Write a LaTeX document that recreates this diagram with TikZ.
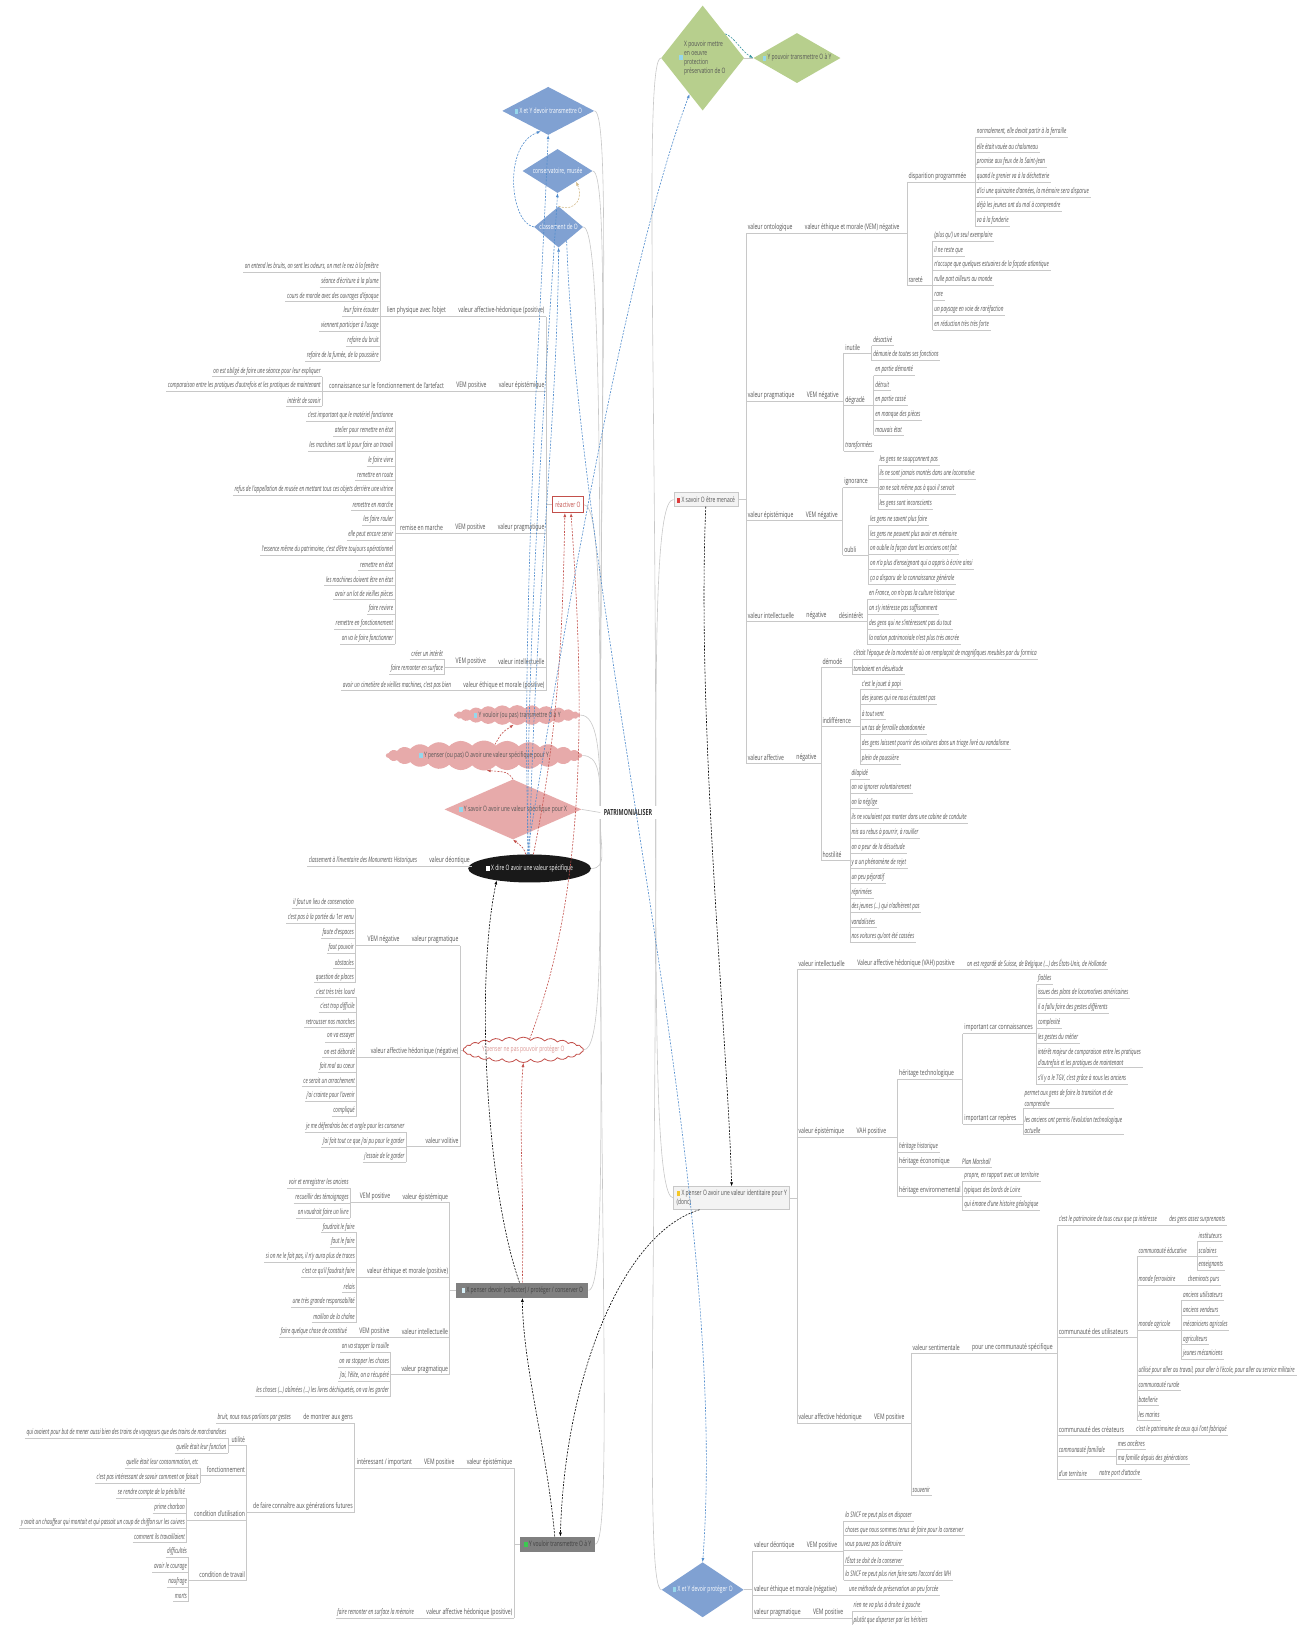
\documentclass[tikz,border=0pt]{standalone}
\usepackage{fontspec}
\setmainfont{Open Sans}[UprightFeatures={FakeStretch=0.67},ItalicFeatures={FakeStretch=0.61},BoldFeatures={FakeStretch=0.64}]
\usepackage{tikz}
\usetikzlibrary{positioning,arrows.meta,calc,backgrounds,shapes.geometric,shapes.symbols}
\definecolor{txt}{RGB}{85,85,85}
\definecolor{lin}{RGB}{200,200,200}
\definecolor{bluedia}{RGB}{128,161,210}
\definecolor{greendia}{RGB}{183,207,141}
\definecolor{pinknode}{RGB}{231,170,170}
\definecolor{relblue}{RGB}{80,140,205}
\definecolor{relred}{RGB}{195,80,75}
\definecolor{reltan}{RGB}{210,185,135}
\definecolor{relteal}{RGB}{60,150,160}
\definecolor{boxgrey}{RGB}{128,128,128}
\definecolor{boxlight}{RGB}{243,243,243}
\definecolor{icoblue}{RGB}{150,215,235}
\definecolor{icoyellow}{RGB}{245,200,40}
\definecolor{icogreen}{RGB}{60,200,80}
\definecolor{icored}{RGB}{220,60,60}
\newcommand{\lff}{\fontsize{7.6}{11}\selectfont\itshape}
\newcommand{\bff}{\fontsize{7.6}{11}\selectfont}
\newcommand{\mnf}{\fontsize{7.4}{9}\selectfont}
\newcommand{\ico}[1]{\textcolor{#1}{\rule[-0.6pt]{3.6pt}{5pt}}\hspace{1.4pt}}
% columns of leaves, brackets and chains
\newcommand{\rcolumn}[4]{\foreach \itm [count=\i] in {#4} {\node[rleaf] (#1\i) at (#2,{#3+14.35*(\i-1)}) {\itm};}}
\newcommand{\lcolumn}[4]{\foreach \itm [count=\i] in {#4} {\node[lleaf] (#1\i) at (#2,{#3+14.35*(\i-1)}) {\itm};}}
\newcommand{\rbrk}[3]{\draw[brk] (#2.south west) -- (#3.south west) (#1.south east) -- (#1.south east -| #2.south west);}
\newcommand{\lbrk}[3]{\draw[brk] (#2.south east) -- (#3.south east) (#1.south west) -- (#1.south west -| #2.south east);}
\newcommand{\rchain}[2]{\draw[brk] (#1.south east) -- (#2.south west);}
\newcommand{\lchain}[2]{\draw[brk] (#1.south west) -- (#2.south east);}
\newcommand{\rootlink}[3]{\draw[link] (#1) .. controls ($(#1)!0.6!(#1 |- #2)$) and ($(#2)+(#3,0)$) .. (#2);}
\tikzset{
  uline/.style ={append after command={(\tikzlastnode.south west) edge[brk] (\tikzlastnode.south east)}},
  rleaf/.style ={anchor=west, font=\lff, text=txt, inner xsep=1.5pt, inner ysep=0pt, minimum height=11pt, uline},
  lleaf/.style ={rleaf, anchor=east},
  rlab/.style  ={rleaf, font=\bff},
  llab/.style  ={rlab, anchor=east},
  brk/.style   ={draw=lin, line width=0.6pt},
  link/.style  ={draw=lin, line width=0.6pt},
  mnode/.style ={font=\mnf, text=txt, inner sep=0pt, align=center},
  bdia/.style  ={mnode, diamond, fill=bluedia, text=white},
  gdia/.style  ={mnode, diamond, fill=greendia},
  pdia/.style  ={mnode, diamond, fill=pinknode},
  pcloud/.style={mnode, cloud, cloud puffs=26, cloud puff arc=95, fill=pinknode},
  rcloud/.style={pcloud, fill=white, draw=relred, line width=0.8pt, text=relred!60},
  gbox/.style  ={mnode, rectangle, fill=boxgrey, minimum height=15pt, text=black!75},
  lbox/.style  ={mnode, rectangle, fill=boxlight, draw=lin, minimum height=14pt, inner xsep=2pt},
  rbox/.style  ={mnode, rectangle, fill=white, draw=relred, line width=0.7pt, text=relred, minimum height=16pt, inner xsep=3pt},
  blk/.style   ={mnode, ellipse, fill=black!90, text=white},
  rootnode/.style={font=\bfseries\fontsize{8.4}{10}\selectfont, text=black!80},
  rel/.style   ={dash pattern=on 2pt off 1.3pt, line width=0.6pt, -{Latex[length=4pt,width=3pt]}},
  relb/.style  ={rel, draw=relblue},
  relr/.style  ={rel, draw=relred},
  relk/.style  ={rel, draw=black},
  relt/.style  ={rel, draw=reltan},
  relg/.style  ={rel, draw=relteal},
}
\begin{document}
\begin{tikzpicture}[x=1.0363pt,y=-1.0363pt,node distance=9pt]
\useasboundingbox (0,0) rectangle (1269,1568);

% main topics
\node[gdia, aspect=0.8, minimum width=83pt, minimum height=105pt] (xp) at (678,56) {\ico{icoblue}\parbox[c]{42pt}{\raggedright X pouvoir mettre\\en oeuvre\\protection\\préservation de O}};
\node[gdia, aspect=1.74, minimum width=87pt, minimum height=50pt] (yp) at (769,56) {\ico{icoblue}Y pouvoir transmettre O à Y};
\node[bdia, aspect=1.9, minimum width=92pt, minimum height=48pt] (xyt) at (529,107) {\ico{icoblue}X et Y devoir transmettre O};
\node[bdia, aspect=1.6, minimum width=70pt, minimum height=44pt] (cons) at (538,165) {conservatoire, musée};
\node[bdia, aspect=1.2, minimum width=49pt, minimum height=41pt] (clas) at (539,219) {classement de O};
\node[rbox] (reac) at (548,487) {réactiver O};
\node[pcloud, aspect=9, minimum width=126pt, minimum height=15pt] (yvo) at (499,690) {\ico{icoblue}Y vouloir (ou pas) transmettre O à Y};
\node[pcloud, aspect=9, minimum width=196pt, minimum height=22pt] (ype) at (467,729) {\ico{icoblue}Y penser (ou pas) O avoir une valeur spécifique pour Y};
\node[pdia, aspect=2.3, minimum width=137pt, minimum height=60pt] (ysa) at (495,781) {\ico{icoblue}Y savoir O avoir une valeur spécifique pour X};
\node[blk, minimum width=105pt, minimum height=28pt] (xdire) at (511,838) {\ico{white}X dire O avoir une valeur spécifique};
\node[rcloud, aspect=6, minimum width=120pt, minimum height=24pt] (ypn) at (505,1013) {Y penser ne pas pouvoir protéger O};
\node[gbox, minimum width=132pt] (xpd) at (504,1245) {\ico{icoblue!40}X penser devoir (collecter) / protéger / conserver O};
\node[gbox, minimum width=75pt] (yvt) at (538,1490) {\ico{icogreen}Y vouloir transmettre O à Y};
\node[lbox, minimum width=64pt] (menace) at (681,482) {\ico{icored}X savoir O être menacé};
\node[lbox, align=left, minimum width=116pt, minimum height=23pt] (xid) at (706,1156) {\ico{icoyellow}X penser O avoir une valeur identitaire pour Y\\(donc)};
\node[bdia, aspect=1.5, minimum width=82pt, minimum height=55pt] (xyp) at (678,1534) {\ico{icoblue}X et Y devoir protéger O};
\node[rootnode] (root) at (606,784) {PATRIMONIALISER};

% X savoir O être menacé
\node[rlab] (vo) at (720,220) {valeur ontologique};
\node[rlab,right=of vo] (vom) {valeur éthique et morale (VEM) négative};
\node[rlab] (dp) at (875,170) {disparition programmée};
\rcolumn{dpk}{941}{127}{{normalement, elle devait partir à la ferraille},{elle était vouée au chalumeau},{promise aux feux de la Saint-Jean},{quand le grenier va à la déchetterie},{d'ici une quinzaine d'années, la mémoire sera disparue},{déjà les jeunes ont du mal à comprendre},{va à la fonderie}}
\node[rlab] (ra) at (875,270) {rareté};
\rcolumn{rak}{900}{227}{{(plus qu') un seul exemplaire},{il ne reste que},{n'occupe que quelques estuaires de la façade atlantique},{nulle part ailleurs au monde},{rare},{un paysage en voie de raréfaction},{en réduction très très forte}}
\rchain{vo}{vom} \rbrk{dp}{dpk1}{dpk7} \rbrk{ra}{rak1}{rak7} \rbrk{vom}{dp}{ra}
\node[rlab] (vp) at (720,382) {valeur pragmatique};
\node[rlab,right=of vp] (vpm) {VEM négative};
\node[rlab] (inu) at (814,335) {inutile};
\rcolumn{inuk}{841}{328}{{désactivé},{démunie de toutes ses fonctions}}
\node[rlab] (deg) at (814,386) {dégradé};
\rcolumn{degk}{843}{357}{{en partie démonté},{détruit},{en partie cassé},{en manque des pièces},{mauvais état}}
\node[rleaf] (tra) at (814,430) {transformées};
\rchain{vp}{vpm} \rbrk{inu}{inuk1}{inuk2} \rbrk{deg}{degk1}{degk5} \rbrk{vpm}{inu}{tra}
\node[rlab] (ve) at (720,497) {valeur épistémique};
\node[rlab,right=of ve] (vem) {VEM négative};
\node[rlab] (ign) at (813,465) {ignorance};
\rcolumn{ignk}{847}{443}{{les gens ne soupçonnent pas},{ils ne sont jamais montés dans une locomotive},{on ne sait même pas à quoi il servait},{les gens sont inconscients}}
\node[rlab] (oub) at (813,530) {oubli};
\rcolumn{oubk}{838}{501}{{les gens ne savent plus faire},{les gens ne peuvent plus avoir en mémoire},{on oublie la façon dont les anciens ont fait},{on n'a plus d'enseignant qui a appris à écrire ainsi},{ça a disparu de la connaissance générale}}
\rchain{ve}{vem} \rbrk{ign}{ignk1}{ignk4} \rbrk{oub}{oubk1}{oubk5} \rbrk{vem}{ign}{oub}
\node[rlab] (vi) at (720,594) {valeur intellectuelle};
\node[rlab,right=of vi] (vin) {négative};
\node[rlab,right=of vin] (vid) {désintérêt};
\rcolumn{vidk}{837}{573}{{en France, on n'a pas la culture historique},{on s'y intéresse pas suffisamment},{des gens qui ne s'intéressent pas du tout},{la notion patrimoniale n'est plus très ancrée}}
\rchain{vi}{vin} \rchain{vin}{vid} \rbrk{vid}{vidk1}{vidk4}
\node[rlab] (va) at (720,731) {valeur affective};
\node[rlab,right=of va] (van) {négative};
\node[rlab] (dem) at (792,638) {démodé};
\rcolumn{demk}{822}{631}{{c'était l'époque de la modernité où on remplaçait de magnifiques meubles par du formica},{tombaient en désuétude}}
\node[rlab] (ind) at (792,695) {indifférence};
\rcolumn{indk}{830}{660}{{c'est le jouet à papi},{des jeunes qui ne nous écoutent pas},{à tout vent},{un tas de ferraille abandonnée},{des gens laissent pourrir des voitures dans un triage livré au vandalisme},{plein de poussière}}
\node[rlab] (hos) at (792,825) {hostilité};
\rcolumn{hosk}{820}{746}{{dilapidé},{on va ignorer volontairement},{on la néglige},{ils ne voulaient pas monter dans une cabine de conduite},{mis au rebus à pourrir, à rouiller},{on a peur de la désuétude},{y a un phénomène de rejet},{un peu péjoratif},{réprimées},{des jeunes (\ldots) qui n'adhèrent pas},{vandalisées},{nos voitures qu'ont été cassées}}
\rchain{va}{van} \rbrk{dem}{demk1}{demk2} \rbrk{ind}{indk1}{indk6} \rbrk{hos}{hosk1}{hosk12} \rbrk{van}{dem}{hos}
\draw[brk] (vo.south west) -- (va.south west) (menace.east) -- (menace.east -| vo.south west);

% réactiver O
\node[llab] (ah) at (527,300) {valeur affective-hédonique (positive)};
\node[llab,left=of ah] (ahl) {lien physique avec l'objet};
\lcolumn{ahk}{367}{257}{{on entend les bruits, on sent les odeurs, on met le nez à la fenêtre},{séance d'écriture à la plume},{cours de morale avec des ouvrages d'époque},{leur faire écouter},{viennent participer à l'usage},{refaire du bruit},{refaire de la fumée, de la poussière}}
\lchain{ah}{ahl} \lbrk{ahl}{ahk1}{ahk7}
\node[llab] (ep) at (527,372) {valeur épistémique};
\node[llab,left=of ep] (epv) {VEM positive};
\node[llab,left=of epv] (epc) {connaissance sur le fonctionnement de l'artefact};
\lcolumn{epk}{311}{358}{{on est obligé de faire une séance pour leur expliquer},{comparaison entre les pratiques d'autrefois et les pratiques de maintenant},{intérêt de savoir}}
\lchain{ep}{epv} \lchain{epv}{epc} \lbrk{epc}{epk1}{epk3}
\node[llab] (pr) at (527,509) {valeur pragmatique};
\node[llab,left=of pr] (prv) {VEM positive};
\node[llab,left=of prv] (prr) {remise en marche};
\lcolumn{prk}{381}{401}{{c'est important que le matériel fonctionne},{atelier pour remettre en état},{les machines sont là pour faire un travail},{le faire vivre},{remettre en route},{refus de l'appellation de musée en mettant tous ces objets derrière une vitrine},{remettre en marche},{les faire rouler},{elle peut encore servir},{l'essence même du patrimoine, c'est d'être toujours opérationnel},{remettre en état},{les machines doivent être en état},{avoir un lot de vieilles pièces},{faire revivre},{remettre en fonctionnement},{on va le faire fonctionner}}
\lchain{pr}{prv} \lchain{prv}{prr} \lbrk{prr}{prk1}{prk16}
\node[llab] (ui) at (527,638) {valeur intellectuelle};
\node[llab,left=of ui] (uiv) {VEM positive};
\lcolumn{uik}{429}{631}{{créer un intérêt},{faire remonter en surface}}
\lchain{ui}{uiv} \lbrk{uiv}{uik1}{uik2}
\node[llab] (ue) at (527,661) {valeur éthique et morale (positive)};
\node[lleaf,left=of ue] (uel) {avoir un cimetière de vieilles machines, c'est pas bien};
\lchain{ue}{uel}
\draw[brk] (ah.south east) -- (ue.south east) (reac.west) -- (reac.west -| ah.south east);

% X dire O
\node[llab] (xdd) at (455,830) {valeur déontique};
\node[lleaf,left=of xdd] (xdl) {classement à l'inventaire des Monuments Historiques};
\lchain{xdd}{xdl}
\draw[brk] (xdd.south east) -- (xdd.south east -| xdire.west);

% Y penser ne pas pouvoir protéger O
\node[llab] (lp) at (444,907) {valeur pragmatique};
\node[llab,left=of lp] (lpv) {VEM négative};
\lcolumn{lpk}{343}{871}{{il faut un lieu de conservation},{c'est pas à la portée du 1er venu},{faute d'espaces},{faut pouvoir},{obstacles},{question de places}}
\lchain{lp}{lpv} \lbrk{lpv}{lpk1}{lpk6}
\node[llab] (lh) at (444,1015) {valeur affective hédonique (négative)};
\lcolumn{lhk}{344}{957}{{c'est très très lourd},{c'est trop difficile},{retrousser nos manches},{on va essayer},{on est débordé},{fait mal au coeur},{ce serait un arrachement},{j'ai crainte pour l'avenir},{compliqué}}
\lbrk{lh}{lhk1}{lhk9}
\node[llab] (lv) at (444,1101) {valeur volitive};
\lcolumn{lvk}{392}{1087}{{je me défendrais bec et ongle pour les conserver},{j'ai fait tout ce que j'ai pu pour le garder},{j'essaie de le garder}}
\lbrk{lv}{lvk1}{lvk3}
\draw[brk] (lp.south east) -- (lv.south east) (ypn.west) -- (ypn.west -| lp.south east);

% X penser devoir protéger
\node[llab] (qe) at (434,1155) {valeur épistémique};
\node[llab,left=of qe] (qev) {VEM positive};
\lcolumn{qek}{338}{1141}{{voir et enregistrer les anciens},{recueillir des témoignages},{on voudrait faire un livre}}
\lchain{qe}{qev} \lbrk{qev}{qek1}{qek3}
\node[llab] (qm) at (434,1227) {valeur éthique et morale (positive)};
\lcolumn{qmk}{344}{1184}{{faudrait le faire},{faut le faire},{si on ne le fait pas, il n'y aura plus de traces},{c'est ce qu'il faudrait faire},{relais},{une très grande responsabilité},{maillon de la chaîne}}
\lbrk{qm}{qmk1}{qmk7}
\node[llab] (qi) at (434,1285) {valeur intellectuelle};
\node[llab,left=of qi] (qiv) {VEM positive};
\node[lleaf,left=of qiv] (qil) {faire quelque chose de constitué};
\lchain{qi}{qiv} \lchain{qiv}{qil}
\node[llab] (qp) at (434,1321) {valeur pragmatique};
\lcolumn{qpk}{377}{1299}{{on va stopper la rouille},{on va stopper les choses},{j'ai, l'élite, on a récupéré},{les choses (\ldots) abîmées (\ldots) les livres déchiquetés, on va les garder}}
\lbrk{qp}{qpk1}{qpk4}
\draw[brk] (qe.south east) -- (qp.south east) (xpd.west) -- (xpd.west -| qe.south east);

% Y vouloir transmettre
\node[llab] (te) at (496,1411) {valeur épistémique};
\node[llab,left=of te] (tev) {VEM positive};
\node[llab,left=of tev] (tei) {intéressant / important};
\node[llab] (tm) at (342,1368) {de montrer aux gens};
\node[lleaf,left=of tm] (tmb) {bruit, nous nous parlions par gestes};
\node[llab] (tf) at (342,1454) {de faire connaître aux générations futures};
\lchain{te}{tev} \lchain{tev}{tei} \lchain{tm}{tmb} \lbrk{tei}{tm}{tf}
\node[llab] (tu) at (238,1389) {utilité};
\lcolumn{tuk}{220}{1382}{{qui avaient pour but de mener aussi bien des trains de voyageurs que des trains de marchandises},{quelle était leur fonction}}
\node[llab] (tfo) at (238,1418) {fonctionnement};
\lcolumn{tfok}{193}{1411}{{quelle était leur consommation, etc},{c'est pas intéressant de savoir comment on faisait}}
\node[llab] (tcu) at (238,1461) {condition d'utilisation};
\lcolumn{tcuk}{180}{1440}{{se rendre compte de la pénibilité},{prime charbon},{y avait un chauffeur qui montait et qui passait un coup de chiffon sur les cuivres},{comment ils travaillaient}}
\node[llab] (tct) at (238,1519) {condition de travail};
\lcolumn{tctk}{182}{1497}{{difficultés},{avoir le courage},{naufrage},{morts}}
\lbrk{tf}{tu}{tct} \lbrk{tu}{tuk1}{tuk2} \lbrk{tfo}{tfok1}{tfok2} \lbrk{tcu}{tcuk1}{tcuk4} \lbrk{tct}{tctk1}{tctk4}
\node[llab] (tah) at (496,1556) {valeur affective hédonique (positive)};
\node[lleaf,left=of tah] (tal) {faire remonter en surface la mémoire};
\lchain{tah}{tal}
\draw[brk] (te.south east) -- (tah.south east) (yvt.west) -- (yvt.west -| te.south east);

% X penser O avoir une valeur identitaire
\node[rlab] (ia) at (769,930) {valeur intellectuelle};
\node[rlab,right=of ia] (iav) {Valeur affective hédonique (VAH) positive};
\node[rleaf,right=of iav] (ial) {on est regardé de Suisse, de Belgique (\ldots) des États-Unis, de Hollande};
\rchain{ia}{iav} \rchain{iav}{ial}
\node[rlab] (ie) at (769,1092) {valeur épistémique};
\node[rlab,right=of ie] (iev) {VAH positive};
\node[rlab] (iet) at (866,1036) {héritage technologique};
\node[rleaf] (ieh) at (866,1106) {héritage historique};
\node[rlab] (iee) at (866,1121) {héritage économique};
\node[rleaf,right=of iee] (iem) {Plan Marshall};
\node[rlab] (ien) at (866,1149) {héritage environnemental};
\rchain{ie}{iev} \rchain{iee}{iem} \rbrk{iev}{iet}{ien}
\node[rlab] (ic) at (929,992) {important car connaissances};
\node[rlab] (ir) at (929,1079) {important car repères};
\rbrk{iet}{ic}{ir}
\node[rleaf] (ick1) at (1000,944) {fiables};
\node[rleaf] (ick2) at (1000,958) {issues des plans de locomotives américaines};
\node[rleaf] (ick3) at (1000,972) {il a fallu faire des gestes différents};
\node[rleaf] (ick4) at (1000,987) {complexité};
\node[rleaf] (ick5) at (1000,1001) {les gestes du métier};
\node[rleaf,align=left] (ick6) at (1000,1021) {intérêt majeur de comparaison entre les pratiques\\d'autrefois et les pratiques de maintenant};
\node[rleaf] (ick7) at (1000,1041) {s'il y a le TGV, c'est grâce à nous les anciens};
\rbrk{ic}{ick1}{ick7}
\node[rleaf,align=left] (irk1) at (987,1060) {permet aux gens de faire la transition et de\\comprendre};
\node[rleaf,align=left] (irk2) at (987,1086) {les anciens ont permis l'évolution technologique\\actuelle};
\rbrk{ir}{irk1}{irk2}
\rcolumn{ienk}{929}{1134}{{propre, en rapport avec un territoire},{typiques des bords de Loire},{qui émane d'une histoire géologique}}
\rbrk{ien}{ienk1}{ienk3}
\node[rlab] (ih) at (769,1368) {valeur affective hédonique};
\node[rlab,right=of ih] (ihv) {VEM positive};
\node[rlab] (is) at (879,1300) {valeur sentimentale};
\node[rlab,right=of is] (isp) {pour une communauté spécifique};
\node[rleaf] (iso) at (879,1437) {souvenir};
\rchain{ih}{ihv} \rchain{is}{isp} \rbrk{ihv}{is}{iso}
\node[rleaf] (cp) at (1020,1177) {c'est le patrimoine de tous ceux que ça intéresse};
\node[rleaf,right=of cp] (cpb) {des gens assez surprenants};
\node[rlab] (cu) at (1020,1285) {communauté des utilisateurs};
\node[rlab] (cc) at (1020,1379) {communauté des créateurs};
\node[rleaf,right=of cc] (ccb) {c'est le patrimoine de ceux qui l'ont fabriqué};
\node[rleaf] (cf) at (1020,1400) {communauté familiale};
\rcolumn{cfk}{1077}{1393}{{mes ancêtres},{ma famille depuis des générations}}
\node[rleaf] (ct) at (1020,1422) {d'un territoire};
\node[rleaf,right=of ct] (ctb) {notre port d'attache};
\rchain{cp}{cpb} \rchain{cc}{ccb} \rchain{ct}{ctb} \rbrk{cf}{cfk1}{cfk2} \rbrk{isp}{cp}{ct}
\node[rleaf] (ce) at (1097,1207) {communauté éducative};
\rcolumn{cek}{1155}{1192}{{instituteurs},{scolaires},{enseignants}}
\node[rleaf] (cm) at (1097,1235) {monde ferroviaire};
\node[rleaf,right=of cm] (cmb) {cheminots purs};
\node[rleaf] (ca) at (1097,1278) {monde agricole};
\rcolumn{cak}{1140}{1249}{{anciens utilisateurs},{anciens vendeurs},{mécaniciens agricoles},{agriculteurs},{jeunes mécaniciens}}
\rcolumn{cuk}{1097}{1322}{{utilisé pour aller au travail, pour aller à l'école, pour aller au service militaire},{communauté rurale},{batellerie},{les marins}}
\rchain{cm}{cmb} \rbrk{ce}{cek1}{cek3} \rbrk{ca}{cak1}{cak5} \rbrk{cu}{ce}{cuk4}
\draw[brk] (ia.south west) -- (ih.south west) (xid.east) -- (xid.east -| ia.south west);

% X et Y devoir protéger O
\node[rlab] (pd) at (726,1491) {valeur déontique};
\node[rlab,right=of pd] (pdv) {VEM positive};
\rcolumn{pdk}{814}{1462}{{la SNCF ne peut plus en disposer},{choses que nous sommes tenus de faire pour la conserver},{vous pouvez pas la détruire},{l'État se doit de la conserver},{la SNCF ne peut plus rien faire sans l'accord des MH}}
\node[rlab] (pe) at (726,1534) {valeur éthique et morale (négative)};
\node[rleaf,right=of pe] (pel) {une méthode de préservation un peu forcée};
\node[rlab] (pp) at (726,1556) {valeur pragmatique};
\node[rlab,right=of pp] (ppv) {VEM positive};
\rcolumn{ppk}{822}{1549}{{rien ne va plus à droite à gauche},{plutôt que disperser par les héritiers}}
\rchain{pd}{pdv} \rchain{pe}{pel} \rchain{pp}{ppv} \rbrk{pdv}{pdk1}{pdk5} \rbrk{ppv}{ppk1}{ppk2}
\draw[brk] (pd.south west) -- (pp.south west) (xyp.east) -- (xyp.east -| pd.south west);

% relationships
\draw[relb] (xdire.100) .. controls (545,600) and (605,250) .. (xp.250);
\draw[relb] (xdire.north) .. controls (515,600) and (538,400) .. (clas.south);
\draw[relb] (xdire.97) .. controls (508,600) and (528,350) .. (cons.south);
\draw[relb] (xdire.94) .. controls (502,600) and (522,300) .. (xyt.south);
\draw[relb] (clas.west) .. controls (492,215) and (485,140) .. (xyt.250);
\draw[relb] (clas.-60) .. controls (560,600) and (705,1150) .. (xyp.north);
\draw[relt] (clas.north) .. controls (556,205) and (563,190) .. (cons.-30);
\draw[relg] (xp.47) .. controls (708,35) and (716,50) .. (yp.west);
\draw[relr] (xdire.75) .. controls (540,700) and (543,600) .. (reac.250);
\draw[relr] (ypn.60) .. controls (570,850) and (562,650) .. (reac.290);
\draw[relr] (xpd.north) .. controls (506,1150) and (500,1080) .. (ypn.south);
\draw[relr] (xdire.105) .. controls (505,818) .. (ysa.south);
\draw[relr] (ysa.north) .. controls (490,745) .. (ype.-80);
\draw[relr] (ype.45) .. controls (484,707) .. (yvo.-110);
\draw[relk] (menace.south) .. controls (672,700) and (702,1000) .. (xid.north);
\draw[relk] (xpd.110) .. controls (470,1150) and (458,950) .. (xdire.200);
\draw[relk] (yvt.110) .. controls (528,1400) and (505,1320) .. (xpd.south);
\draw[relk] (xid.200) .. controls (600,1190) and (545,1330) .. (yvt.70);

% links to the central topic
\begin{scope}[on background layer]
\fill[white] (0,0) rectangle (1269,1568);
\foreach \n in {xyt,cons,clas,reac,yvo,ype} {\rootlink{root.north west}{\n.east}{16}}
\draw[link] (root.west) -- (ysa.east);
\foreach \n in {xdire,ypn,xpd,yvt} {\rootlink{root.south west}{\n.east}{16}}
\rootlink{root.north east}{xp.west}{-16}
\rootlink{root.north east}{menace.west}{-16}
\rootlink{root.south east}{xid.west}{-16}
\rootlink{root.south east}{xyp.west}{-16}
\draw[link] (xp.east) -- (yp.west);
\end{scope}
\end{tikzpicture}
\end{document}
